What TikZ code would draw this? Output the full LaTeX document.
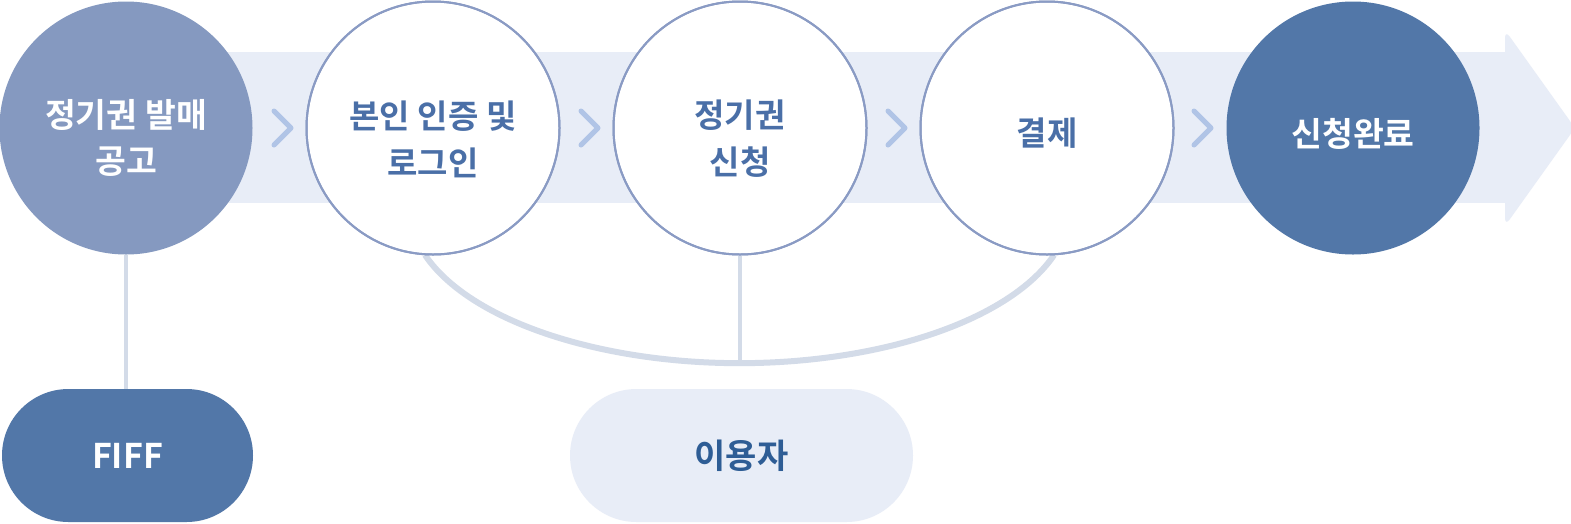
\documentclass[tikz,border=0pt]{standalone}
\usepackage{fontspec}
\setmainfont{Noto Sans CJK KR}[BoldFont={Noto Sans CJK KR Bold}]
\definecolor{bandc}{HTML}{E8EDF7}
\definecolor{cfirst}{HTML}{8599C0}
\definecolor{cdark}{HTML}{5277A8}
\definecolor{outl}{HTML}{8A9BC4}
\definecolor{chevc}{HTML}{B0C4E6}
\definecolor{connc}{HTML}{D3DBE8}
\definecolor{bluetxt}{HTML}{4A6FA7}
\definecolor{usertxt}{HTML}{2E5D95}
\tikzset{
  circbase/.style={circle, inner sep=0pt, minimum size=253pt},
  circfirst/.style={circbase, fill=cfirst},
  circdone/.style={circbase, fill=cdark},
  circstep/.style={circbase, fill=white, draw=outl, line width=2pt},
  wtxt/.style={text=white, font=\fontsize{33.5}{46}\selectfont\bfseries, align=center, inner sep=0pt},
  btxt/.style={text=bluetxt, font=\fontsize{33}{47}\selectfont\bfseries, align=center, inner sep=0pt},
  pill/.style={rectangle, rounded corners=66.5pt, minimum height=133pt, inner sep=0pt},
  chev/.style={draw=chevc, line width=5pt, line cap=round, line join=round},
  conn/.style={draw=connc, line width=4.5pt},
  arcline/.style={draw=connc, line width=6pt},
}
\begin{document}
\begin{tikzpicture}[x=1pt, y=-1pt]
\useasboundingbox[fill=white] (0,0) rectangle (1571,523);
% band arrow
\fill[bandc] (126,52) rectangle (1507,203);
\fill[bandc, rounded corners=8pt] (1505,30) -- (1575,128) -- (1505,226) -- cycle;
% connectors (behind circles)
\coordinate (arcstart) at (425,255);
\coordinate (arcbot) at (740,363);
\draw[arcline] (arcstart) arc[start angle=197.6, end angle=342.4, x radius=330pt, y radius=155pt];
\node[pill, fill=cdark, minimum width=251pt] (fiff) at (127.5,455.5) {};
\node[pill, fill=bandc, minimum width=343pt] (user) at (741.5,455.5) {};
\node[circfirst] (c1) at (126,128) {};
\node[circstep] (c2) at (433,128) {};
\node[circstep] (c3) at (740,128) {};
\node[circstep] (c4) at (1047,128) {};
\node[circdone] (c5) at (1353,128) {};
\draw[conn] (c1.south) -- (c1.south |- fiff.north);
\draw[conn] (c3.south) -- (arcbot);
% redraw outlines over connector ends
\draw[outl, line width=2pt] (c3) circle[radius=126.5pt];
\draw[outl, line width=2pt] (c2) circle[radius=126.5pt];
\draw[outl, line width=2pt] (c4) circle[radius=126.5pt];
% chevrons
\foreach \cx in {274,581,888,1194}{
  \draw[chev] (\cx,111) -- (\cx+17,128) -- (\cx,145);
}
% texts
\node[wtxt] (t1) at (126,138) {정기권 발매\\공고};
\node[btxt] (t2) at (433,139) {본인 인증 및\\로그인};
\node[btxt] (t3) at (740,139) {정기권\\신청};
\node[btxt] (t4) at (1047,133) {결제};
\node[wtxt] (t5) at (1353,134) {신청완료};
\node[text=white, font=\fontsize{34}{40}\selectfont\bfseries, inner sep=0pt] (tf) at (fiff) {FIFF};
\node[text=usertxt, font=\fontsize{34}{40}\selectfont\bfseries, inner sep=0pt] (tu) at (user) {이용자};
\end{tikzpicture}
\end{document}
